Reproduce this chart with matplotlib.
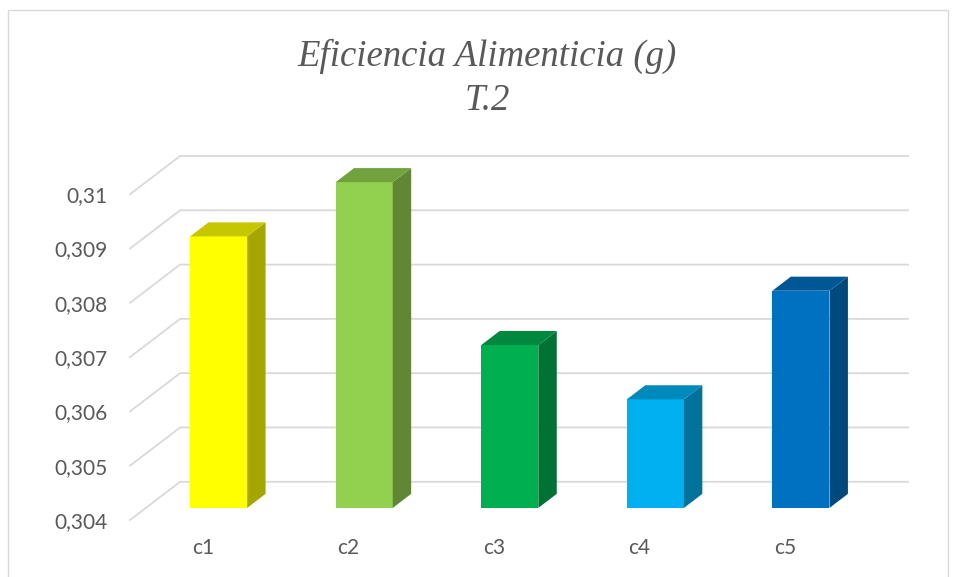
import matplotlib.pyplot as plt
from matplotlib import font_manager as fm
from matplotlib.patches import Polygon, Rectangle
from matplotlib.colors import to_rgb

categorias = ["c1", "c2", "c3", "c4", "c5"]
valores = [0.309, 0.310, 0.307, 0.306, 0.308]
colores = ["#FFFF00", "#92D050", "#00B050", "#00B0F0", "#0070C0"]
ticks_y = [0.304, 0.305, 0.306, 0.307, 0.308, 0.309, 0.310]
etiquetas_y = ["0,304", "0,305", "0,306", "0,307", "0,308", "0,309", "0,31"]

ymin, ymax = 0.304, 0.310
# vector de profundidad (frente -> pared del fondo) en unidades de datos
dx, dy = 0.344, 0.000704
ancho = 0.392
z0, z1 = 0.316, 0.684  # profundidad de la barra

plt.rcParams['font.family'] = 'Lato'

fig = plt.figure(figsize=(9.56, 5.77), dpi=100)
ax = fig.add_axes([130/956, 57/577, 778/956, 364/577])
ax.set_xlim(-0.5, 4.5 + dx)
ax.set_ylim(ymin, ymax + dy)
for s in ax.spines.values():
    s.set_visible(False)

# lineas de cuadricula en perspectiva
for v in ticks_y:
    ax.plot([-0.5, -0.5 + dx, 4.5 + dx], [v, v + dy, v + dy],
            color="#d9d9d9", lw=1.3, zorder=1, clip_on=False)

def sombra(c, f):
    r, g, b = to_rgb(c)
    return (r * f, g * f, b * f)

for i, (v, c) in enumerate(zip(valores, colores)):
    x0 = i - ancho / 2 + z0 * dx
    x1 = i + ancho / 2 + z0 * dx
    yb = ymin + z0 * dy
    yt = v + z0 * dy
    ddx = (z1 - z0) * dx
    ddy = (z1 - z0) * dy
    frente = Polygon([(x0, yb), (x1, yb), (x1, yt), (x0, yt)], closed=True,
                     facecolor=c, edgecolor="none", zorder=3)
    lado = Polygon([(x1, yb), (x1 + ddx, yb + ddy), (x1 + ddx, yt + ddy), (x1, yt)],
                   closed=True, facecolor=sombra(c, 0.65), edgecolor="none", zorder=3)
    tapa = Polygon([(x0, yt), (x1, yt), (x1 + ddx, yt + ddy), (x0 + ddx, yt + ddy)],
                   closed=True, facecolor=sombra(c, 0.78), edgecolor="none", zorder=3)
    for p in (frente, lado, tapa):
        ax.add_patch(p)

ax.set_yticks(ticks_y)
ax.set_yticklabels(etiquetas_y)
ax.set_xticks(range(len(categorias)))
ax.set_xticklabels(categorias)
ax.tick_params(axis="y", length=0, pad=16, labelsize=15, labelcolor="#595959")
ax.tick_params(axis="x", length=0, pad=13, labelsize=15, labelcolor="#595959")

# fuente del titulo: Liberation Serif italica (parecida a Times)
ruta = fm.findfont(fm.FontProperties(family="Liberation Serif", style="italic"))
fuente_titulo = fm.FontProperties(fname=ruta, size=26.5)
fig.text(487/956, 1 - 56/577, "Eficiencia Alimenticia (g)", ha="center", va="center",
         fontproperties=fuente_titulo, color="#595959")
fig.text(487/956, 1 - 101/577, "T.2", ha="center", va="center",
         fontproperties=fuente_titulo, color="#595959")

# marco del grafico
fig.patches.append(Rectangle((8/956, -0.05), 940/956, 1.05 - 10/577,
                             transform=fig.transFigure, fill=False,
                             edgecolor="#d9d9d9", lw=1))

fig.savefig("out.png", dpi=100)
